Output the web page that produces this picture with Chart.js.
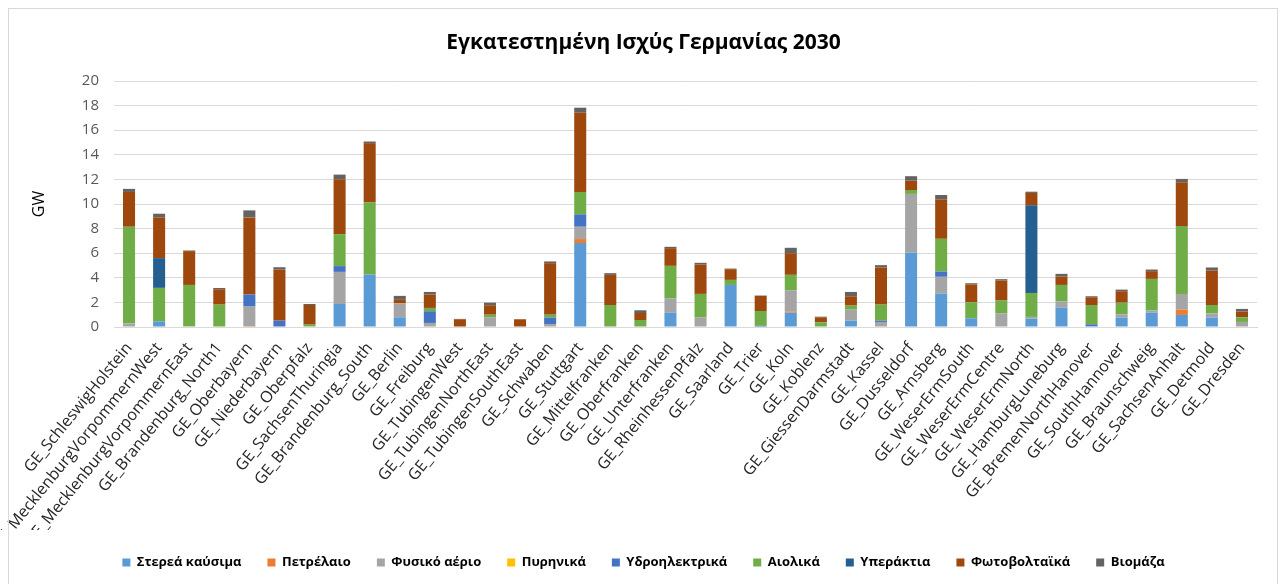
<!DOCTYPE html>
<html>
<head>
<meta charset="utf-8">
<script src="https://cdn.jsdelivr.net/npm/chart.js@4.4.1/dist/chart.umd.min.js"></script>
<style>
  html, body { margin: 0; padding: 0; background: #fff; overflow: hidden; }
  #wrap { position: relative; width: 1280px; height: 584px; }
  #frame { position: absolute; left: 8px; top: 8px; width: 1268px; height: 600px; border: 1px solid #d9d9d9; pointer-events: none; }
</style>
</head>
<body>
<div id="wrap">
  <canvas id="c" width="1280" height="584"></canvas>
  <div id="frame"></div>
</div>
<script>
const categories = ["GE_SchleswigHolstein","GE_MecklenburgVorpommernWest","GE_MecklenburgVorpommernEast","GE_Brandenburg_North1","GE_Oberbayern","GE_Niederbayern","GE_Oberpfalz","GE_SachsenThuringia","GE_Brandenburg_South","GE_Berlin","GE_Freiburg","GE_TubingenWest","GE_TubingenNorthEast","GE_TubingenSouthEast","GE_Schwaben","GE_Stuttgart","GE_Mittelfranken","GE_Oberfranken","GE_Unterfranken","GE_RheinhessenPfalz","GE_Saarland","GE_Trier","GE_Koln","GE_Koblenz","GE_GiessenDarmstadt","GE_Kassel","GE_Dusseldorf","GE_Arnsberg","GE_WeserErmSouth","GE_WeserErmCentre","GE_WeserErmNorth","GE_HamburgLuneburg","GE_BremenNorthHanover","GE_SouthHannover","GE_Braunschweig","GE_SachsenAnhalt","GE_Detmold","GE_Dresden"];

const solidFuels = [0,0.46,0,0,0,0,0,1.87,4.27,0.79,0,0,0,0,0,6.82,0,0,1.17,0,3.42,0,1.17,0,0.52,0,6.06,2.72,0.71,0,0.68,1.58,0.05,0.76,1.17,0.98,0.76,0];
const oil        = [0,0,0,0,0.08,0,0,0,0,0,0,0,0,0,0,0.33,0,0,0,0,0,0,0.1,0,0,0,0,0,0,0,0,0,0,0,0,0.43,0,0];
const naturalGas = [0.3,0,0.05,0,1.58,0,0,2.61,0,1.14,0.33,0,0.79,0,0.24,1.0,0,0,1.17,0.79,0,0,1.72,0,0.89,0.41,4.76,1.36,0,1.09,0.14,0.51,0,0.27,0.19,1.28,0.35,0.41];
const nuclear    = [0,0,0,0,0,0,0,0,0,0,0,0,0,0,0,0,0,0,0,0,0,0,0,0,0,0,0,0,0,0,0,0,0,0,0,0,0,0];
const hydro      = [0,0,0,0,0.98,0.52,0,0.47,0,0,0.95,0,0,0,0.52,1.01,0,0,0,0,0,0.1,0,0,0,0.11,0,0.43,0,0,0,0,0.17,0,0,0,0,0];
const wind       = [7.85,2.72,3.37,1.82,0,0,0.19,2.6,5.87,0,0.27,0,0.21,0,0.24,1.82,1.79,0.57,2.63,1.9,0.41,1.2,1.25,0.38,0.33,1.3,0.32,2.66,1.3,1.06,1.95,1.33,1.57,0.95,2.55,5.52,0.68,0.38];
const offshore   = [0,2.42,0,0,0,0,0,0,0,0,0,0,0,0,0,0,0,0,0,0,0,0,0,0,0,0,0,0,0,0,7.12,0,0,0,0,0,0,0];
const solarPV    = [2.83,3.31,2.75,1.25,6.27,4.15,1.6,4.46,4.81,0.33,1.09,0.63,0.77,0.63,4.19,6.44,2.45,0.57,1.44,2.39,0.87,1.23,1.76,0.41,0.76,3.02,0.76,3.21,1.44,1.63,1.01,0.68,0.63,0.93,0.63,3.56,2.8,0.46];
const biomass    = [0.25,0.3,0.05,0.1,0.57,0.19,0.08,0.38,0.13,0.27,0.21,0.03,0.21,0,0.14,0.41,0.14,0.22,0.11,0.14,0.05,0.03,0.44,0.05,0.35,0.19,0.36,0.35,0.11,0.11,0.1,0.22,0.08,0.13,0.13,0.27,0.25,0.22];

const seriesNames = ["Στερεά καύσιμα","Πετρέλαιο","Φυσικό αέριο","Πυρηνικά","Υδροηλεκτρικά","Αιολικά","Υπεράκτια","Φωτοβολταϊκά","Βιομάζα"];
const seriesData = [solidFuels, oil, naturalGas, nuclear, hydro, wind, offshore, solarPV, biomass];
const seriesColors = ["#5B9BD5","#ED7D31","#A5A5A5","#FFC000","#4472C4","#70AD47","#255E91","#9E480E","#636363"];

const yTicksMin = 0, yTicksMax = 20, yTicksStep = 2;
const chartTitle = "Εγκατεστημένη Ισχύς Γερμανίας 2030";
const yAxisTitle = "GW";

const datasets = seriesNames.map((name, i) => ({
  label: name,
  data: seriesData[i],
  backgroundColor: seriesColors[i],
  borderWidth: 0,
  categoryPercentage: 1.0,
  barPercentage: 0.4
}));

new Chart(document.getElementById('c'), {
  type: 'bar',
  data: { labels: categories, datasets },
  options: {
    responsive: false,
    animation: false,
    layout: { padding: { left: 30, right: 23, top: 0, bottom: 5 } },
    plugins: {
      title: {
        display: true,
        text: chartTitle,
        color: '#000',
        font: { family: 'Open Sans', size: 21, weight: 'bold', lineHeight: 1.2 },
        padding: { top: 30, bottom: 25.8 }
      },
      legend: {
        position: 'bottom',
        labels: {
          boxWidth: 8,
          boxHeight: 8,
          padding: 26,
          color: '#000',
          font: { family: 'Open Sans', size: 13, weight: 'bold' }
        }
      },
      tooltip: { enabled: false }
    },
    scales: {
      x: {
        stacked: true,
        grid: { display: false },
        border: { color: '#d9d9d9', width: 1 },
        ticks: {
          autoSkip: false,
          minRotation: 51,
          maxRotation: 51,
          padding: 4,
          color: '#262626',
          font: { family: 'Open Sans', size: 16 }
        },
        afterFit(scale) { scale.height = 203; }
      },
      y: {
        stacked: true,
        min: yTicksMin,
        max: yTicksMax,
        border: { display: false },
        grid: { color: '#d9d9d9', lineWidth: 1, drawTicks: false },
        ticks: {
          stepSize: yTicksStep,
          padding: 15,
          color: '#595959',
          font: { family: 'Open Sans', size: 15 }
        },
        title: {
          display: true,
          text: yAxisTitle,
          color: '#000',
          font: { family: 'Open Sans', size: 16 },
          padding: { top: 0, bottom: 0 }
        },
        afterFit(scale) { scale.width = 84; }
      }
    }
  }
});
</script>
</body>
</html>
